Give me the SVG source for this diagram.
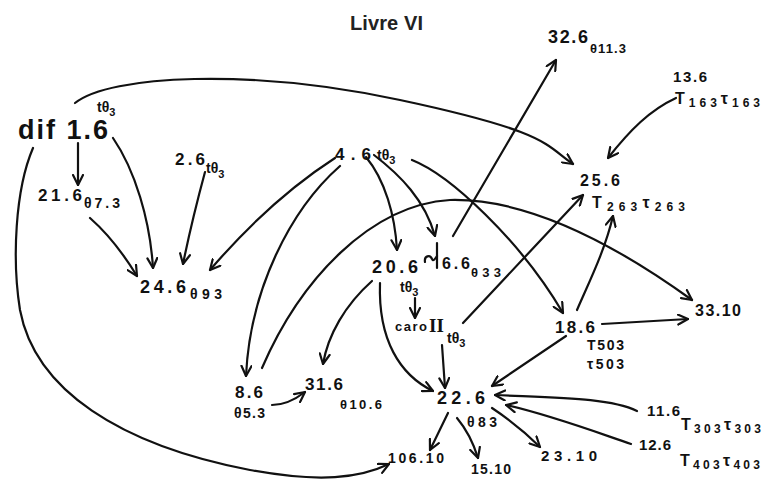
<svg xmlns="http://www.w3.org/2000/svg" width="764" height="481" viewBox="0 0 764 481">
<style>
.h{font-family:"Liberation Sans",Arial,sans-serif;font-weight:bold;fill:#111}
.title{font-family:"Liberation Sans",Arial,sans-serif;font-weight:bold;font-size:20px;fill:#222}
.c path{fill:none;stroke:#111;stroke-width:2.2;stroke-linecap:round;stroke-linejoin:round}
.c path.a{marker-end:url(#ah)}
</style>
<defs>
<marker id="ah" viewBox="0 0 12 12" refX="11" refY="6" markerWidth="12" markerHeight="12" markerUnits="userSpaceOnUse" orient="auto">
<path d="M1,1 L11,6 L1,11" fill="none" stroke="#111" stroke-width="2.2" stroke-linecap="round" stroke-linejoin="round"/>
</marker>
</defs>
<rect width="764" height="481" fill="#fff"/>
<text class="title" x="350" y="30" textLength="73">Livre VI</text>

<g class="c" id="connectors">
<path class="a" d="M75 103 C110 75 250 68 400 100 S545 145 573 164"/>
<path class="a" d="M78 143 L78 185"/>
<path class="a" d="M113 138 C135 170 150 220 153 268"/>
<path class="a" d="M90 218 Q115 240 137 276"/>
<path class="a" d="M205 172 Q192 220 183 264"/>
<path class="a" d="M335 158 Q270 200 210 270"/>
<path class="a" d="M340 166 C290 210 250 290 246 376"/>
<path class="a" d="M262 368 C300 280 370 205 450 200 C530 198 620 248 692 300"/>
<path class="a" d="M372 281 C345 305 328 335 323 364"/>
<path class="a" d="M380 283 C378 340 400 375 433 391"/>
<path class="a" d="M415 298 L415 318"/>
<path class="a" d="M442 345 L445 388"/>
<path class="a" d="M463 323 L583 195"/>
<path class="a" d="M366 157 C385 180 395 215 397 250"/>
<path class="a" d="M374 155 C400 175 425 200 435 236"/>
<path d="M437 243 L437 268"/>
<path d="M425 262 C424 256 430 254 432 259 C433 262 435 259 437 256"/>
<path class="a" d="M412 160 C450 175 520 240 563 313"/>
<path class="a" d="M453 236 C465 215 480 190 556 60"/>
<path class="a" d="M676 98 C650 110 630 130 608 158"/>
<path class="a" d="M577 310 C590 280 605 250 613 216"/>
<path class="a" d="M602 324 L688 319"/>
<path class="a" d="M566 336 L492 386"/>
<path class="a" d="M637 411 C610 398 560 398 495 395"/>
<path class="a" d="M631 444 C590 430 550 415 506 405"/>
<path class="a" d="M448 413 L430 450"/>
<path class="a" d="M457 418 C467 430 474 445 478 458"/>
<path class="a" d="M492 408 C510 420 525 432 540 447"/>
<path class="a" d="M272 405 Q288 405 305 392"/>
<path class="a" d="M33 148 C15 190 12 260 20 310 C35 390 120 445 250 470 C320 483 360 478 389 464"/>
</g>

<g id="n-dif1-6"><text class="h" x="18" y="139" font-size="27" textLength="90">dif 1.6</text><text class="h" x="97" y="112" font-size="14">tθ<tspan font-size="11" dy="4">3</tspan></text></g>
<g id="n-21-6"><text class="h" x="38" y="201" font-size="17" textLength="44">21.6</text><text class="h" x="84" y="208" font-size="14" textLength="36">θ7.3</text></g>
<g id="n-2-6"><text class="h" x="175" y="165" font-size="17" textLength="30">2.6</text><text class="h" x="206" y="173" font-size="14">tθ<tspan font-size="11" dy="5">3</tspan></text></g>
<g id="n-24-6"><text class="h" x="140" y="293" font-size="18" textLength="46">24.6</text><text class="h" x="190" y="299" font-size="14" textLength="32">θ93</text></g>
<g id="n-4-6"><text class="h" x="335" y="160" font-size="17" textLength="36">4.6</text><text class="h" x="377" y="160" font-size="14">tθ<tspan font-size="11" dy="4">3</tspan></text></g>
<g id="n-32-6"><text class="h" x="548" y="43" font-size="18" textLength="40">32.6</text><text class="h" x="590" y="53" font-size="13" textLength="36">θ11.3</text></g>
<g id="n-13-6"><text class="h" x="673" y="82" font-size="15" textLength="34">13.6</text><text class="h" x="675" y="104" font-size="16" textLength="85">T<tspan font-size="12" dy="3">163</tspan><tspan dy="-3">τ</tspan><tspan font-size="12" dy="3">163</tspan></text></g>
<g id="n-25-6"><text class="h" x="580" y="186" font-size="16" textLength="40">25.6</text><text class="h" x="592" y="208" font-size="16" textLength="93">T<tspan font-size="12" dy="3">263</tspan><tspan dy="-3">τ</tspan><tspan font-size="12" dy="3">263</tspan></text></g>
<g id="n-20-6"><text class="h" x="372" y="273" font-size="18" textLength="46">20.6</text><text class="h" x="400" y="292" font-size="14">tθ<tspan font-size="11" dy="4">3</tspan></text></g>
<g id="n-6-6"><text class="h" x="442" y="269" font-size="16" textLength="28">6.6</text><text class="h" x="471" y="277" font-size="13" textLength="30">θ33</text></g>
<g id="n-caro"><text class="h" x="395" y="331" font-size="13" textLength="32">caro</text><text x="429" y="332" font-family="Liberation Serif,serif" font-weight="bold" font-size="19" fill="#111">II</text><text class="h" x="447" y="343" font-size="14">tθ<tspan font-size="11" dy="4">3</tspan></text></g>
<g id="n-18-6"><text class="h" x="555" y="333" font-size="17" textLength="40">18.6</text><text class="h" x="587" y="350" font-size="14" textLength="37">T503</text><text class="h" x="587" y="369" font-size="14" textLength="37">τ503</text></g>
<g id="n-33-10"><text class="h" x="695" y="316" font-size="16" textLength="46">33.10</text></g>
<g id="n-8-6"><text class="h" x="235" y="398" font-size="17" textLength="28">8.6</text><text class="h" x="234" y="418" font-size="14" textLength="31">θ5.3</text></g>
<g id="n-31-6"><text class="h" x="305" y="390" font-size="17" textLength="38">31.6</text><text class="h" x="340" y="409" font-size="13" textLength="42">θ10.6</text></g>
<g id="n-22-6"><text class="h" x="437" y="404" font-size="18" textLength="48">22.6</text><text class="h" x="467" y="427" font-size="14" textLength="30">θ83</text></g>
<g id="n-11-6"><text class="h" x="647" y="416" font-size="15" textLength="33">11.6</text><text class="h" x="681" y="430" font-size="16" textLength="80">T<tspan font-size="12" dy="3">303</tspan><tspan dy="-3">τ</tspan><tspan font-size="12" dy="3">303</tspan></text></g>
<g id="n-12-6"><text class="h" x="639" y="450" font-size="15" textLength="32">12.6</text><text class="h" x="680" y="466" font-size="16" textLength="80">T<tspan font-size="12" dy="3">403</tspan><tspan dy="-3">τ</tspan><tspan font-size="12" dy="3">403</tspan></text></g>
<g id="n-106-10"><text class="h" x="388" y="463" font-size="14" textLength="56">106.10</text></g>
<g id="n-15-10"><text class="h" x="471" y="474" font-size="14" textLength="40">15.10</text></g>
<g id="n-23-10"><text class="h" x="541" y="461" font-size="15" textLength="56">23.10</text></g>
</svg>
